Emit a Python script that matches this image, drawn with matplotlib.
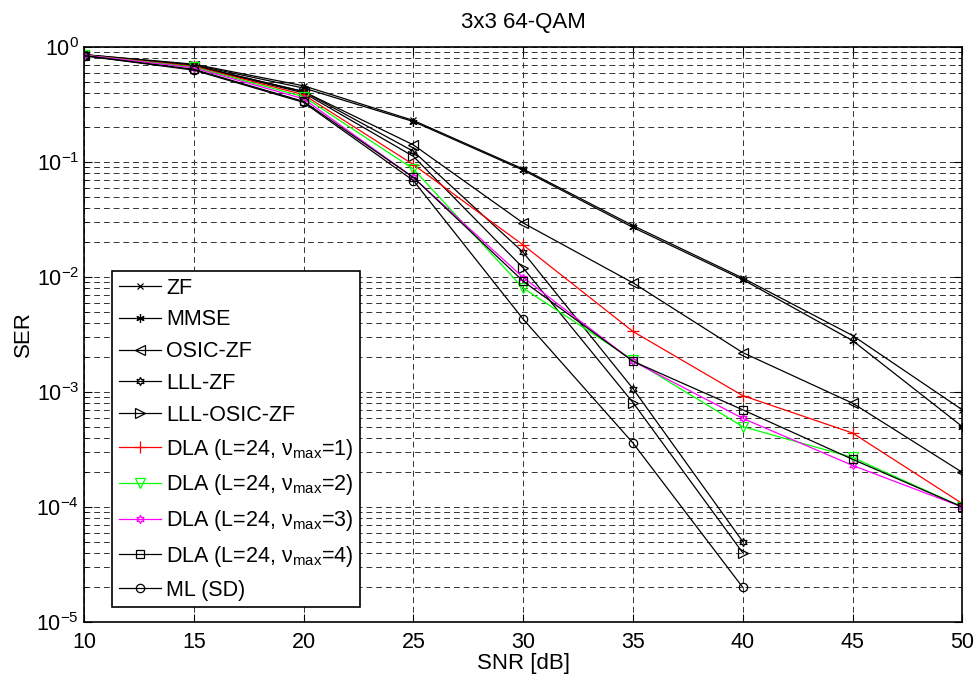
import matplotlib
matplotlib.use('Agg')
import matplotlib.pyplot as plt
from matplotlib.ticker import LogLocator, NullFormatter

plt.rcParams['font.family'] = ['Liberation Sans', 'DejaVu Sans']

snr = [10, 15, 20, 25, 30, 35, 40, 45, 50]
snr_short = [10, 15, 20, 25, 30, 35, 40]

zf = [0.86, 0.71, 0.46, 0.23, 0.087, 0.028, 0.0098, 0.0031, 0.0007]
mmse = [0.86, 0.70, 0.44, 0.225, 0.085, 0.027, 0.0095, 0.0028, 0.0005]
osic_zf = [0.85, 0.69, 0.41, 0.141, 0.0295, 0.0089, 0.0022, 0.0008, 0.0002]
lll_zf = [0.85, 0.69, 0.41, 0.124, 0.0164, 0.00107, 5e-5]
lll_osic_zf = [0.85, 0.68, 0.40, 0.112, 0.012, 0.00081, 4e-5]
dla1 = [0.85, 0.68, 0.385, 0.095, 0.019, 0.00336, 0.00093, 0.00044, 0.000107]
dla2 = [0.85, 0.67, 0.37, 0.087, 0.008, 0.0019, 0.0005, 0.00027, 0.0001]
dla3 = [0.85, 0.66, 0.355, 0.0734, 0.0099, 0.00185, 0.00059, 0.00023, 0.0001]
dla4 = [0.84, 0.64, 0.337, 0.0734, 0.0092, 0.00185, 0.0007, 0.00026, 0.0001]
ml_sd = [0.84, 0.63, 0.33, 0.069, 0.0043, 0.00036, 2e-5]

hexagram = (6, 1, 0)
asterisk = (6, 2, 0)

fig = plt.figure(figsize=(9.77, 6.78), dpi=100)
ax = fig.add_axes([0.086, 0.0826, 0.899, 0.848])

kw = dict(lw=0.9, ms=6, mfc='none', mew=0.9)
ax.semilogy(snr, zf, color='k', marker='x', label='ZF', **dict(kw, ms=4))
ax.semilogy(snr, mmse, color='k', marker=asterisk, label='MMSE', **kw)
ax.semilogy(snr, osic_zf, color='k', marker='<', label='OSIC-ZF', **dict(kw, ms=7))
ax.semilogy(snr_short, lll_zf, color='k', marker=hexagram, label='LLL-ZF', **kw)
ax.semilogy(snr_short, lll_osic_zf, color='k', marker='>', label='LLL-OSIC-ZF', **dict(kw, ms=7))
ax.semilogy(snr, dla1, color='r', marker='+', label='DLA (L=24, ν$_{\\mathregular{max}}$=1)', **dict(kw, ms=8))
ax.semilogy(snr, dla2, color=(0, 1, 0), marker='v', label='DLA (L=24, ν$_{\\mathregular{max}}$=2)', **dict(kw, ms=7))
ax.semilogy(snr, dla3, color=(1, 0, 1), marker=hexagram, label='DLA (L=24, ν$_{\\mathregular{max}}$=3)', **kw)
ax.semilogy(snr, dla4, color='k', marker='s', label='DLA (L=24, ν$_{\\mathregular{max}}$=4)', **kw)
ax.semilogy(snr_short, ml_sd, color='k', marker='o', label='ML (SD)', **kw)

ax.set_xlim(10, 50)
ax.set_ylim(1e-5, 1)
ax.set_xticks(range(10, 51, 5))
ax.yaxis.set_major_locator(LogLocator(base=10, numticks=10))
ax.yaxis.set_minor_locator(LogLocator(base=10, subs=range(2, 10), numticks=20))
ax.yaxis.set_minor_formatter(NullFormatter())

gs = dict(color='0.2', linestyle=(0, (6, 4)), linewidth=0.7)
ax.grid(True, which='major', axis='both', **gs)
ax.grid(True, which='minor', axis='y', **gs)

ax.tick_params(which='both', direction='in', top=True, right=True, labelsize=15.5)
ax.tick_params(which='major', length=6)
ax.tick_params(which='minor', length=3)
ax.tick_params(axis='x', pad=7)
for s in ax.spines.values():
    s.set_linewidth(1.2)

ax.set_title('3x3 64-QAM', fontsize=16, pad=14)
ax.set_xlabel('SNR [dB]', fontsize=16, labelpad=0)
ax.set_ylabel('SER', fontsize=16, labelpad=2)

leg = ax.legend(loc='lower left', bbox_to_anchor=(0.032, 0.026), fontsize=15.5,
                fancybox=False, framealpha=1, edgecolor='k', borderaxespad=0,
                handlelength=1.95, handletextpad=0.25, labelspacing=0.5,
                borderpad=0.3)
leg.get_frame().set_linewidth(1.2)

fig.savefig('out.png', dpi=100)
